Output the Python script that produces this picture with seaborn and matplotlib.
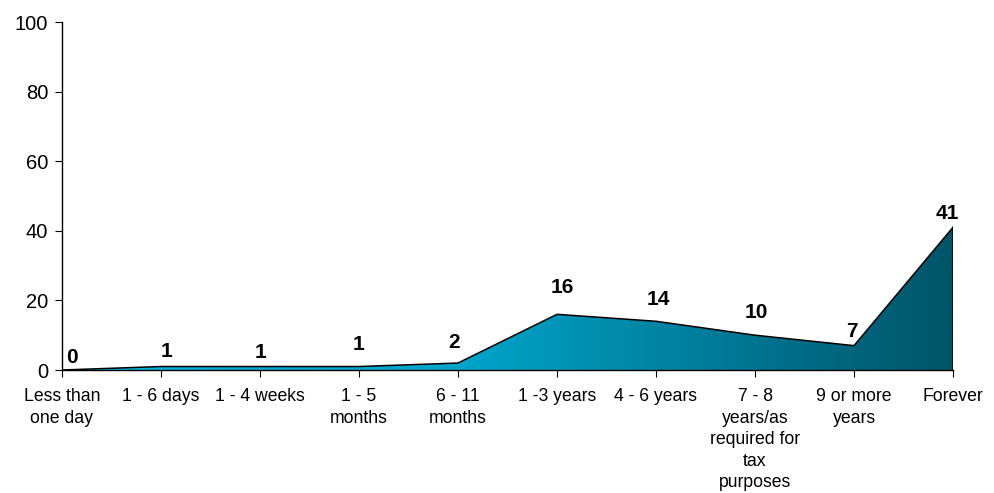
import numpy as np
import pandas as pd
import matplotlib
matplotlib.use("Agg")
import matplotlib.pyplot as plt
import seaborn as sns
from matplotlib.colors import LinearSegmentedColormap
from matplotlib.patches import Polygon

categories = [
    "Less than\none day", "1 - 6 days", "1 - 4 weeks", "1 - 5\nmonths",
    "6 - 11\nmonths", "1 -3 years", "4 - 6 years",
    "7 - 8\nyears/as\nrequired for\ntax\npurposes",
    "9 or more\nyears", "Forever",
]
values = [0, 1, 1, 1, 2, 16, 14, 10, 7, 41]
y_ticks = [0, 20, 40, 60, 80, 100]

# label nudges in pixels (horizontal, vertical gap above each point)
label_dx = [10, 6, 0, 0, -4, 5, 2, 1, -2, -6]
label_dy = [7, 10, 9, 17, 15, 21, 16, 17, 9, 8]

sns.set_theme(style="ticks")
plt.rcParams["font.family"] = ["Liberation Sans", "DejaVu Sans"]

df = pd.DataFrame({"pos": np.arange(len(categories)), "value": values})

fig = plt.figure(figsize=(9.94, 4.93), dpi=100)
ax = fig.add_axes([62 / 994, 1 - 370 / 493, (953 - 62) / 994, (370 - 22) / 493])

# gradient-filled area under the series
x = df["pos"].to_numpy(dtype=float)
y = df["value"].to_numpy(dtype=float)
verts = np.column_stack([np.r_[x, x[-1], x[0]], np.r_[y, 0, 0]])
poly = Polygon(verts, closed=True, facecolor="none", edgecolor="none")
ax.add_patch(poly)
cmap = LinearSegmentedColormap.from_list(
    "teal", [(0.0, "#00b6e2"), (0.45, "#00a4cb"), (1.0, "#005468")]
)
grad = np.linspace(0, 1, 512).reshape(1, -1)
img = ax.imshow(grad, cmap=cmap, aspect="auto", extent=[x[0], x[-1], 0, max(y)],
                origin="lower", zorder=1)
img.set_clip_path(poly)

sns.lineplot(data=df, x="pos", y="value", ax=ax, color="black", linewidth=1.1,
             zorder=3, legend=False)
ax.plot([x[-1], x[-1]], [0, y[-1]], color="black", linewidth=1.1, zorder=3)

for xi, yi, dx, dy in zip(x, y, label_dx, label_dy):
    ax.annotate(f"{int(yi)}", (xi, yi), xytext=(dx, dy), textcoords="offset pixels",
                ha="center", va="baseline", fontsize=15, fontweight="bold",
                color="black")

ax.set_xlim(0, len(categories) - 1)
ax.set_ylim(0, 100)
ax.set_yticks(y_ticks)
ax.set_yticklabels([str(t) for t in y_ticks], fontsize=14.5)
ax.set_xticks(x)
ax.set_xticklabels(categories, fontsize=12.7, linespacing=1.35, va="top")
ax.tick_params(axis="both", direction="out", length=5, width=0.8, color="black",
               labelcolor="black")
ax.tick_params(axis="x", pad=8)
ax.tick_params(axis="y", pad=5)
ax.set_xlabel("")
ax.set_ylabel("")
sns.despine(ax=ax, top=True, right=True)
for s in ("left", "bottom"):
    ax.spines[s].set_color("black")
    ax.spines[s].set_linewidth(1.0)
ax.set_facecolor("white")
ax.grid(False)

fig.savefig("out.png", dpi=100, facecolor="white")
